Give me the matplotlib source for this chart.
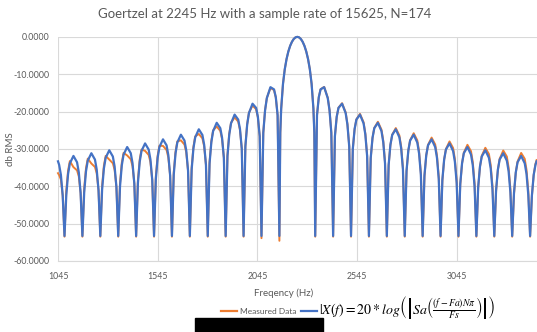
import matplotlib
matplotlib.use("Agg")
import matplotlib.pyplot as plt
from matplotlib.lines import Line2D
from matplotlib.patches import Rectangle

plt.rcParams['font.family'] = ['Lato', 'DejaVu Sans']
plt.rcParams['mathtext.fontset'] = 'stix'

# frequency points (Hz)
freq = [
    1045.0, 1050.7, 1059.6, 1068.6, 1077.6,
    1086.6, 1095.6, 1104.5, 1122.5, 1140.5, 1149.4, 1158.4, 1167.4,
    1176.4, 1185.4, 1194.3, 1212.3, 1230.3, 1239.2, 1248.2, 1257.2,
    1266.2, 1275.2, 1284.1, 1302.1, 1320.1, 1329.0, 1338.0, 1347.0,
    1356.0, 1365.0, 1373.9, 1391.9, 1409.9, 1418.8, 1427.8, 1436.8,
    1445.8, 1454.8, 1463.7, 1481.7, 1499.7, 1508.6, 1517.6, 1526.6,
    1535.6, 1544.6, 1553.5, 1571.5, 1589.5, 1598.4, 1607.4, 1616.4,
    1625.4, 1634.4, 1643.3, 1661.3, 1679.3, 1688.2, 1697.2, 1706.2,
    1715.2, 1724.2, 1733.1, 1751.1, 1769.1, 1778.0, 1787.0, 1796.0,
    1805.0, 1814.0, 1822.9, 1840.9, 1858.9, 1867.8, 1876.8, 1885.8,
    1894.8, 1903.8, 1912.7, 1930.7, 1948.7, 1957.6, 1966.6, 1975.6,
    1984.6, 1993.6, 2002.5, 2020.5, 2038.5, 2047.4, 2056.4, 2065.4,
    2074.4, 2083.4, 2092.3, 2110.3, 2128.3, 2137.2, 2146.2, 2155.2,
    2159.7, 2164.2, 2173.2, 2182.1, 2191.1, 2200.1, 2209.1, 2218.1, 2227.0, 2236.0,
    2245.0,
    2254.0, 2263.0, 2271.9, 2280.9, 2289.9, 2298.9, 2307.9, 2316.8, 2325.8, 2330.3,
    2334.8,
    2343.8, 2352.8, 2361.7, 2379.7, 2397.7, 2406.6, 2415.6, 2424.6,
    2433.6, 2442.6, 2451.5, 2469.5, 2487.5, 2496.4, 2505.4, 2514.4,
    2523.4, 2532.4, 2541.3, 2559.3, 2577.3, 2586.2, 2595.2, 2604.2,
    2613.2, 2622.2, 2631.1, 2649.1, 2667.1, 2676.0, 2685.0, 2694.0,
    2703.0, 2712.0, 2720.9, 2738.9, 2756.9, 2765.8, 2774.8, 2783.8,
    2792.8, 2801.8, 2810.7, 2828.7, 2846.7, 2855.6, 2864.6, 2873.6,
    2882.6, 2891.6, 2900.5, 2918.5, 2936.5, 2945.4, 2954.4, 2963.4,
    2972.4, 2981.4, 2990.3, 3008.3, 3026.3, 3035.2, 3044.2, 3053.2,
    3062.2, 3071.2, 3080.1, 3098.1, 3116.1, 3125.0, 3134.0, 3143.0,
    3152.0, 3161.0, 3169.9, 3187.9, 3205.9, 3214.8, 3223.8, 3232.8,
    3241.8, 3250.8, 3259.7, 3277.7, 3295.7, 3304.6, 3313.6, 3322.6,
    3331.6, 3340.6, 3349.5, 3367.5, 3385.5, 3394.4, 3403.4, 3412.4,
    3421.4, 3430.4, 3439.3, 3445.0,
]

# orange series, dB
measured = [
    -36.50, -37.00, -38.20, -42.50, -53.50,
    -41.16, -35.81, -33.26, -34.88, -35.74, -37.37, -41.80, -53.50,
    -40.55, -35.17, -32.60, -33.91, -34.83, -36.54, -41.05, -53.50,
    -39.89, -34.48, -31.87, -32.87, -33.84, -35.64, -40.23, -53.50,
    -39.16, -33.71, -31.07, -31.75, -32.77, -34.65, -39.32, -53.50,
    -38.33, -32.85, -30.17, -30.53, -31.61, -33.56, -38.31, -53.50,
    -37.40, -31.88, -29.16, -29.19, -30.31, -32.34, -37.17, -53.50,
    -36.32, -30.76, -28.00, -27.70, -28.85, -30.95, -35.85, -53.50,
    -35.06, -29.45, -26.65, -26.00, -27.17, -29.33, -34.29, -53.50,
    -33.55, -27.89, -25.03, -24.01, -25.17, -27.39, -32.40, -53.50,
    -31.66, -25.93, -23.00, -21.57, -22.69, -24.94, -29.97, -53.50,
    -29.19, -23.36, -20.31, -18.40, -19.38, -21.59, -26.59, -53.90,
    -25.62, -19.59, -16.34, -13.72, -14.24, -16.24, -20.97, -54.60,
    -25.60, -19.23, -12.62, -8.69, -5.94, -3.92, -2.42, -1.33, -0.58, -0.14,
    0.00,
    -0.14, -0.58, -1.33, -2.42, -3.92, -5.94, -8.69, -12.62, -19.23, -25.60,
    -53.50,
    -20.99, -16.15, -14.04, -13.40, -16.29, -19.58, -25.64, -53.50,
    -26.64, -21.42, -18.99, -17.77, -20.21, -23.33, -29.22, -53.50,
    -30.05, -24.68, -22.10, -20.62, -22.85, -25.88, -31.71, -53.50,
    -32.50, -27.05, -24.38, -22.74, -24.83, -27.82, -33.62, -53.50,
    -34.42, -28.90, -26.19, -24.42, -26.40, -29.37, -35.14, -53.50,
    -36.00, -30.44, -27.67, -25.80, -27.70, -30.66, -36.42, -53.50,
    -37.35, -31.74, -28.93, -26.97, -28.81, -31.77, -37.52, -53.50,
    -38.51, -32.87, -30.04, -28.00, -29.77, -32.72, -38.46, -53.50,
    -39.55, -33.88, -31.00, -28.90, -30.62, -33.56, -39.31, -53.50,
    -40.48, -34.78, -31.87, -29.70, -31.37, -34.31, -40.06, -53.50,
    -41.33, -35.60, -32.67, -30.43, -32.05, -34.99, -40.73, -53.50,
    -42.10, -36.34, -33.38, -31.08, -32.66, -35.61, -41.36, -53.50,
    -42.70, -37.00, -34.00, -33.00,
]

# blue series, dB
theory = [
    -33.33, -34.26, -36.97, -42.49, -53.30,
    -42.36, -36.71, -33.86, -31.88, -33.58, -36.29, -41.80, -53.30,
    -41.65, -36.00, -33.15, -31.16, -32.85, -35.55, -41.05, -53.30,
    -40.89, -35.23, -32.37, -30.37, -32.04, -34.74, -40.23, -53.30,
    -40.06, -34.39, -31.52, -29.50, -31.15, -33.84, -39.32, -53.30,
    -39.13, -33.45, -30.57, -28.53, -30.17, -32.84, -38.31, -53.30,
    -38.10, -32.41, -29.51, -27.44, -29.05, -31.71, -37.17, -53.30,
    -36.92, -31.21, -28.30, -26.20, -27.77, -30.41, -35.85, -53.30,
    -35.56, -29.83, -26.90, -24.75, -26.27, -28.88, -34.29, -53.30,
    -33.95, -28.19, -25.23, -23.01, -24.45, -27.03, -32.40, -53.30,
    -31.96, -26.16, -23.15, -20.82, -22.15, -24.67, -29.97, -53.30,
    -29.39, -23.51, -20.41, -17.90, -19.02, -21.41, -26.59, -53.30,
    -25.72, -19.67, -16.39, -13.47, -14.06, -16.15, -20.97, -53.30,
    -25.60, -19.23, -12.62, -8.69, -5.94, -3.92, -2.42, -1.33, -0.58, -0.14,
    0.00,
    -0.14, -0.58, -1.33, -2.42, -3.92, -5.94, -8.69, -12.62, -19.23, -25.60,
    -53.30,
    -20.97, -16.15, -14.06, -13.47, -16.39, -19.67, -25.72, -53.30,
    -26.59, -21.41, -19.02, -17.90, -20.41, -23.51, -29.39, -53.30,
    -29.97, -24.67, -22.15, -20.82, -23.15, -26.16, -31.96, -53.30,
    -32.40, -27.03, -24.45, -23.01, -25.23, -28.19, -33.95, -53.30,
    -34.29, -28.88, -26.27, -24.75, -26.90, -29.83, -35.56, -53.30,
    -35.85, -30.41, -27.77, -26.20, -28.30, -31.21, -36.92, -53.30,
    -37.17, -31.71, -29.05, -27.44, -29.51, -32.41, -38.10, -53.30,
    -38.31, -32.84, -30.17, -28.53, -30.57, -33.45, -39.13, -53.30,
    -39.32, -33.84, -31.15, -29.50, -31.52, -34.39, -40.06, -53.30,
    -40.23, -34.74, -32.04, -30.37, -32.37, -35.23, -40.89, -53.30,
    -41.05, -35.55, -32.85, -31.16, -33.15, -36.00, -41.65, -53.30,
    -41.80, -36.29, -33.58, -31.88, -33.86, -36.71, -42.36, -53.30,
    -42.49, -36.97, -34.26, -33.33,
]

x_ticks = [1045, 1545, 2045, 2545, 3045]
y_ticks = [-60, -50, -40, -30, -20, -10, 0]

fig = plt.figure(figsize=(5.37, 3.32), dpi=100)
ax = fig.add_axes([0.108, 0.214, 0.892, 0.675])

grey = '#595959'
gridc = '#d9d9d9'

ax.plot(freq, measured, color='#ED7D31', lw=1.4, clip_on=False, zorder=3)
ax.plot(freq, theory, color='#4472C4', lw=1.6, clip_on=False, zorder=4)

ax.set_xlim(1045, 3447)
ax.set_ylim(-60, 0)
ax.set_xticks(x_ticks)
ax.set_yticks(y_ticks)
ax.set_yticklabels(['%.4f' % v for v in y_ticks])
ax.grid(True, color=gridc, lw=0.8)
ax.set_axisbelow(True)
for s in ['top', 'right', 'left']:
    ax.spines[s].set_visible(False)
ax.spines['bottom'].set_color(gridc)
ax.tick_params(length=0, labelsize=6.3, colors=grey)
ax.tick_params(axis='y', pad=6)
ax.tick_params(axis='x', pad=8)

fig.text(0.492, 0.958, 'Goertzel at 2245 Hz with a sample rate of 15625, N=174',
         ha='center', va='center', fontsize=9.5, color=grey)
fig.text(0.02, 0.55, 'db RMS', rotation=90, ha='center', va='center',
         fontsize=7, color=grey)
fig.text(0.529, 0.118, 'Freqency (Hz)', ha='center', va='center',
         fontsize=7, color=grey)

handles = [Line2D([], [], color='#ED7D31', lw=1.6),
           Line2D([], [], color='#4472C4', lw=1.6)]
labels = ['Measured Data',
          r'$|X(f) = 20*log\left(\left|Sa\left(\frac{(f-Fa)N\pi}{Fs}\right)\right|\right)$']
leg = fig.legend(handles, labels, loc='center', bbox_to_anchor=(0.668, 0.074),
                 ncol=2, frameon=False, fontsize=6, handlelength=1.9,
                 handletextpad=0.3, columnspacing=0.6, labelcolor=grey)
leg.get_texts()[1].set_fontsize(10)
leg.get_texts()[1].set_color('black')

# black redaction bar along the bottom edge
fig.patches.append(Rectangle((195 / 537, 0), 128 / 537, 14 / 332,
                             transform=fig.transFigure, color='black'))

fig.savefig('out.png', dpi=100)
